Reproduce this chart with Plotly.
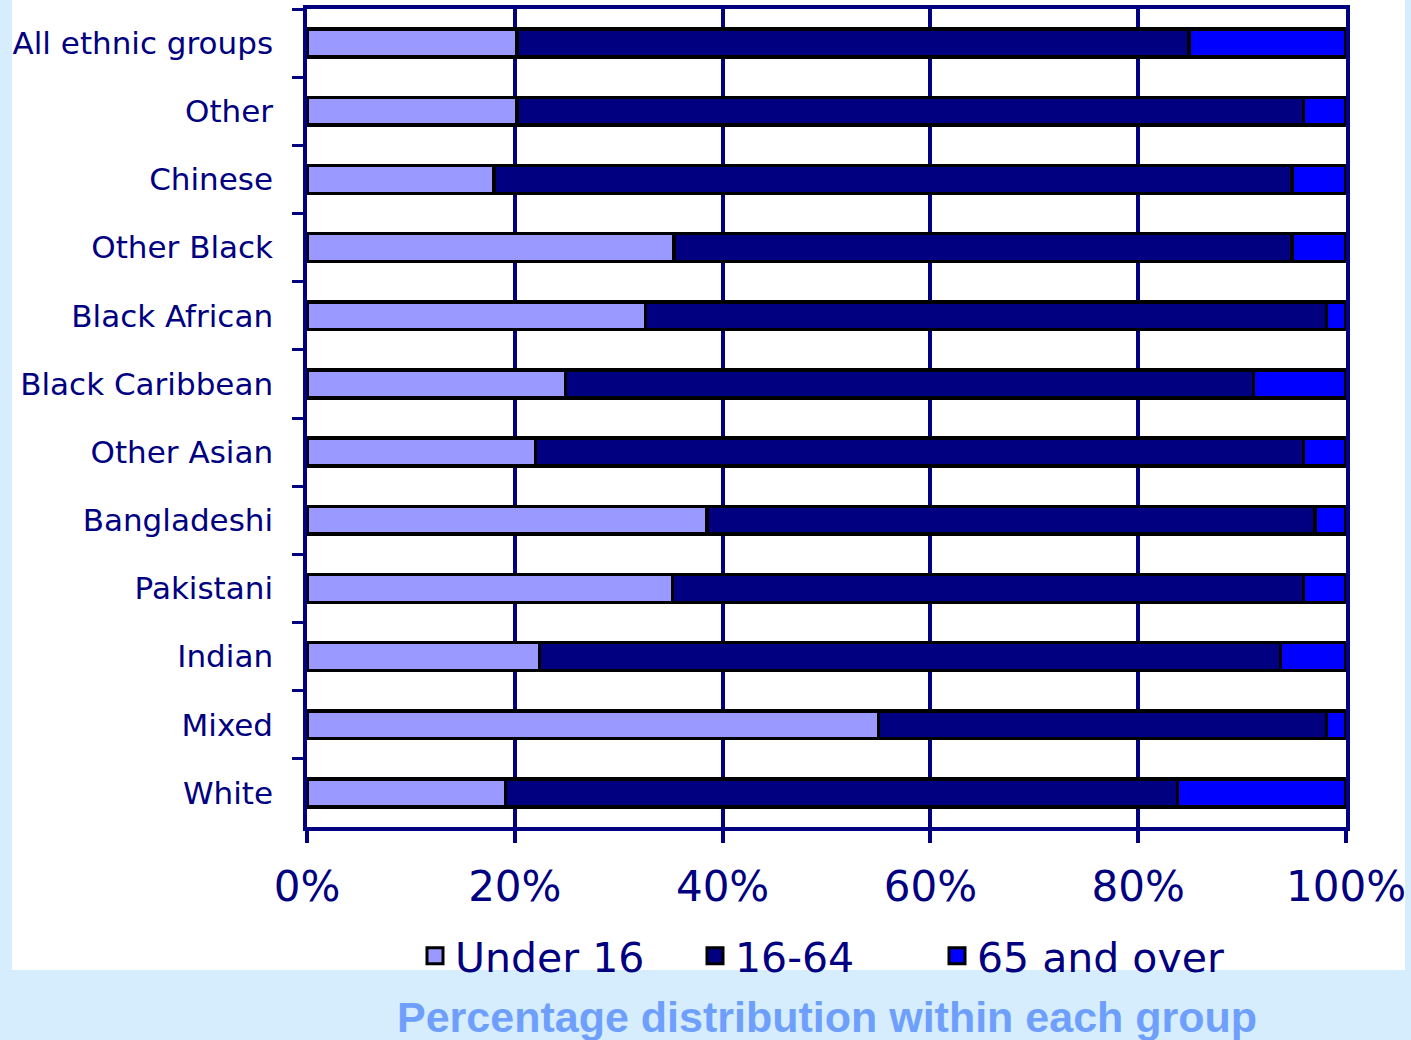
import plotly.graph_objects as go

categories = ["All ethnic groups", "Other", "Chinese", "Other Black", "Black African",
              "Black Caribbean", "Other Asian", "Bangladeshi", "Pakistani", "Indian",
              "Mixed", "White"]
under16 = [20.2, 20.2, 18.0, 35.3, 32.6, 24.9, 22.0, 38.5, 35.2, 22.4, 55.0, 19.1]
age16_64 = [64.7, 75.7, 76.8, 59.5, 65.5, 66.2, 73.9, 58.5, 60.7, 71.3, 43.1, 64.7]
over65 = [15.1, 4.1, 5.2, 5.2, 1.9, 8.9, 4.1, 3.0, 4.1, 6.3, 1.9, 16.2]
series_names = ["Under 16", "16-64", "65 and over"]
series_colors = ["#9999ff", "#000080", "#0000ff"]
x_ticks = [0, 20, 40, 60, 80, 100]
x_ticklabels = ["0%", "20%", "40%", "60%", "80%", "100%"]
title_text = "Percentage distribution within each group"

NAVY = "#000080"
W, H = 1411, 1040
L, R, T, B = 307, W - 1346, 9, H - 827
pw, ph = W - L - R, H - T - B


def px_x(p):
    return (p - L) / pw


def px_y(p):
    return (H - B - p) / ph


legend_ids = ["legend", "legend2", "legend3"]
legend_text_x = [455, 735, 977]

fig = go.Figure()
for name, vals, col in zip(series_names, [under16, age16_64, over65], series_colors):
    fig.add_trace(go.Bar(
        y=categories, x=vals, name=name, orientation="h", showlegend=False,
        marker=dict(color=col, line=dict(color="black", width=3.5)),
    ))
# legend entries (square swatches like the original legend)
for name, col, lid in zip(series_names, series_colors, legend_ids):
    fig.add_trace(go.Scatter(
        x=[None], y=[None], name=name, mode="markers", legend=lid, showlegend=True,
        marker=dict(symbol="square", size=16, color=col, line=dict(color="black", width=3)),
    ))

legend_common = dict(orientation="h", xanchor="left", yanchor="middle", y=px_y(956),
                     font=dict(size=41, color=NAVY, family="DejaVu Sans"),
                     bgcolor="rgba(0,0,0,0)", borderwidth=0, itemsizing="trace")

layout_legends = {}
for lid, tx in zip(legend_ids, legend_text_x):
    layout_legends[lid] = dict(legend_common, x=px_x(tx - 40))

fig.update_layout(
    width=W, height=H,
    margin=dict(l=L, r=R, t=T, b=B, pad=0, autoexpand=False),
    barmode="stack", bargap=0.59,
    paper_bgcolor="#d6edfd", plot_bgcolor="white",
    font=dict(family="DejaVu Sans", color=NAVY),
    xaxis=dict(range=[0, 100], tickvals=x_ticks, ticktext=x_ticklabels,
               showgrid=True, gridcolor=NAVY, gridwidth=3.5,
               showline=True, linecolor=NAVY, linewidth=3.5, mirror=True,
               ticks="outside", ticklen=12, tickwidth=3.5, tickcolor=NAVY,
               tickfont=dict(size=42, color=NAVY, family="DejaVu Sans"),
               ticklabelstandoff=8, zeroline=False, fixedrange=True),
    yaxis=dict(type="category", autorange="reversed",
               showgrid=False, showline=True, linecolor=NAVY, linewidth=3.5, mirror=True,
               ticks="outside", tickson="boundaries", ticklen=11, tickwidth=3, tickcolor=NAVY,
               tickfont=dict(size=31, color=NAVY, family="DejaVu Sans"),
               ticklabelstandoff=24, fixedrange=True),
    showlegend=True,
    shapes=[dict(type="rect", xref="paper", yref="paper",
                 x0=px_x(12), x1=px_x(1405), y0=px_y(970), y1=px_y(-5),
                 fillcolor="white", line=dict(width=0), layer="below")],
    annotations=[dict(text="<b>" + title_text + "</b>", xref="paper", yref="paper",
                      x=px_x(827), y=px_y(1017), xanchor="center", yanchor="middle",
                      showarrow=False,
                      font=dict(size=43, color="#6f9ffd", family="Liberation Sans"))],
    **layout_legends,
)

fig.write_html("out.html", config={"displayModeBar": False},
               post_script="document.body.style.margin='0';document.body.style.overflow='hidden';window.dispatchEvent(new Event('resize'));")
